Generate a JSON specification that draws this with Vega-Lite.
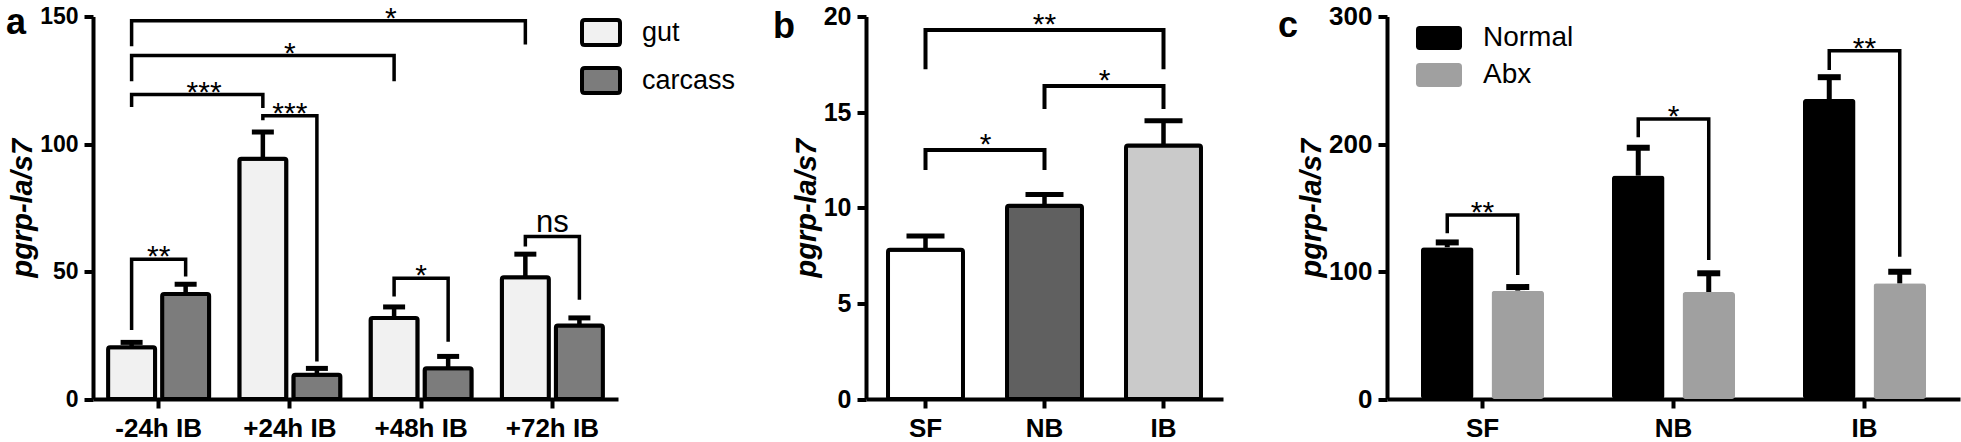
{
  "$schema": "https://vega.github.io/schema/vega-lite/v6.json",
  "autosize": {"type": "none"},
  "padding": {"left": 93, "top": 16.5, "right": 1868, "bottom": 425.5},
  "background": "white",
  "config": {
    "font": "Liberation Sans",
    "view": {"stroke": null},
    "axis": {
      "domainColor": "black", "domainWidth": 4, "tickColor": "black", "tickWidth": 4, "tickSize": 9,
      "labelColor": "black", "labelFont": "Liberation Sans", "labelFontWeight": "bold", "grid": false,
      "titleFont": "Liberation Sans", "titleFontWeight": "bold", "titleFontStyle": "italic", "titleColor": "black", "titleFontSize": 29
    },
    "axisX": {"labelAngle": 0, "labelFontSize": 26, "labelPadding": 7},
    "axisY": {"labelPadding": 6, "titlePadding": 2},
    "legend": {"labelFont": "Liberation Sans", "labelColor": "black", "padding": 0, "titlePadding": 0}
  },
  "datasets": {
    "aBars": [
      {"time": "-24h IB", "tissue": "gut", "mean": 20.3, "hi": 22.2},
      {"time": "-24h IB", "tissue": "carcass", "mean": 41.2, "hi": 45.0},
      {"time": "+24h IB", "tissue": "gut", "mean": 94.2, "hi": 104.7},
      {"time": "+24h IB", "tissue": "carcass", "mean": 9.5, "hi": 12.0},
      {"time": "+48h IB", "tissue": "gut", "mean": 31.8, "hi": 36.1},
      {"time": "+48h IB", "tissue": "carcass", "mean": 12.1, "hi": 16.7},
      {"time": "+72h IB", "tissue": "gut", "mean": 47.7, "hi": 56.8},
      {"time": "+72h IB", "tissue": "carcass", "mean": 28.8, "hi": 31.8}
    ],
    "aBrk": [
      {"id": 1, "pt": 1, "time": "-24h IB", "tissue": "gut", "v": 27.1},
      {"id": 1, "pt": 2, "time": "-24h IB", "tissue": "gut", "v": 54.8},
      {"id": 1, "pt": 3, "time": "-24h IB", "tissue": "carcass", "v": 54.8},
      {"id": 1, "pt": 4, "time": "-24h IB", "tissue": "carcass", "v": 48.0},
      {"id": 2, "pt": 1, "time": "+24h IB", "tissue": "gut", "v": 109.3},
      {"id": 2, "pt": 2, "time": "+24h IB", "tissue": "gut", "v": 111.1},
      {"id": 2, "pt": 3, "time": "+24h IB", "tissue": "carcass", "v": 111.1},
      {"id": 2, "pt": 4, "time": "+24h IB", "tissue": "carcass", "v": 14.7},
      {"id": 3, "pt": 1, "time": "-24h IB", "tissue": "gut", "v": 114.5},
      {"id": 3, "pt": 2, "time": "-24h IB", "tissue": "gut", "v": 119.4},
      {"id": 3, "pt": 3, "time": "+24h IB", "tissue": "gut", "v": 119.4},
      {"id": 3, "pt": 4, "time": "+24h IB", "tissue": "gut", "v": 114.1},
      {"id": 4, "pt": 1, "time": "-24h IB", "tissue": "gut", "v": 124.6},
      {"id": 4, "pt": 2, "time": "-24h IB", "tissue": "gut", "v": 134.7},
      {"id": 4, "pt": 3, "time": "+48h IB", "tissue": "gut", "v": 134.7},
      {"id": 4, "pt": 4, "time": "+48h IB", "tissue": "gut", "v": 124.6},
      {"id": 5, "pt": 1, "time": "-24h IB", "tissue": "gut", "v": 138.3},
      {"id": 5, "pt": 2, "time": "-24h IB", "tissue": "gut", "v": 148.3},
      {"id": 5, "pt": 3, "time": "+72h IB", "tissue": "gut", "v": 148.3},
      {"id": 5, "pt": 4, "time": "+72h IB", "tissue": "gut", "v": 139.0},
      {"id": 6, "pt": 1, "time": "+48h IB", "tissue": "gut", "v": 40.2},
      {"id": 6, "pt": 2, "time": "+48h IB", "tissue": "gut", "v": 47.4},
      {"id": 6, "pt": 3, "time": "+48h IB", "tissue": "carcass", "v": 47.4},
      {"id": 6, "pt": 4, "time": "+48h IB", "tissue": "carcass", "v": 22.5},
      {"id": 7, "pt": 1, "time": "+72h IB", "tissue": "gut", "v": 59.8},
      {"id": 7, "pt": 2, "time": "+72h IB", "tissue": "gut", "v": 63.7},
      {"id": 7, "pt": 3, "time": "+72h IB", "tissue": "carcass", "v": 63.7},
      {"id": 7, "pt": 4, "time": "+72h IB", "tissue": "carcass", "v": 38.9}
    ],
    "aLabC": [
      {"time": "-24h IB", "v": 54.8, "sig": "**"},
      {"time": "+24h IB", "v": 111.1, "sig": "***"},
      {"time": "+24h IB", "v": 134.7, "sig": "*"},
      {"time": "+48h IB", "v": 47.4, "sig": "*"}
    ],
    "aLabR": [{"time": "-24h IB", "v": 119.4, "sig": "***"}],
    "aLabL": [{"time": "+48h IB", "v": 148.3, "sig": "*"}],
    "aNs": [{"time": "+72h IB", "v": 63.7, "sig": "ns"}],
    "bBars": [
      {"grp": "SF", "mean": 7.8, "hi": 8.52},
      {"grp": "NB", "mean": 10.1, "hi": 10.69},
      {"grp": "IB", "mean": 13.25, "hi": 14.55}
    ],
    "bBrk": [
      {"id": 1, "pt": 1, "grp": "SF", "v": 11.97},
      {"id": 1, "pt": 2, "grp": "SF", "v": 13.02},
      {"id": 1, "pt": 3, "grp": "NB", "v": 13.02},
      {"id": 1, "pt": 4, "grp": "NB", "v": 11.97},
      {"id": 2, "pt": 1, "grp": "NB", "v": 15.16},
      {"id": 2, "pt": 2, "grp": "NB", "v": 16.37},
      {"id": 2, "pt": 3, "grp": "IB", "v": 16.37},
      {"id": 2, "pt": 4, "grp": "IB", "v": 15.16},
      {"id": 3, "pt": 1, "grp": "SF", "v": 17.24},
      {"id": 3, "pt": 2, "grp": "SF", "v": 19.29},
      {"id": 3, "pt": 3, "grp": "IB", "v": 19.29},
      {"id": 3, "pt": 4, "grp": "IB", "v": 17.24}
    ],
    "bLabMid": [
      {"grp": "SF", "v": 13.02, "sig": "*"},
      {"grp": "NB", "v": 16.37, "sig": "*"}
    ],
    "bLabC": [{"grp": "NB", "v": 19.29, "sig": "**"}],
    "cBars": [
      {"diet": "SF", "treatment": "Normal", "mean": 119.0, "hi": 122.8},
      {"diet": "SF", "treatment": "Abx", "mean": 85.0, "hi": 87.8},
      {"diet": "NB", "treatment": "Normal", "mean": 175.2, "hi": 197.0},
      {"diet": "NB", "treatment": "Abx", "mean": 83.9, "hi": 98.6},
      {"diet": "IB", "treatment": "Normal", "mean": 235.3, "hi": 252.4},
      {"diet": "IB", "treatment": "Abx", "mean": 90.7, "hi": 99.9}
    ],
    "cBrk": [
      {"id": 1, "pt": 1, "diet": "SF", "treatment": "Normal", "v": 130.0},
      {"id": 1, "pt": 2, "diet": "SF", "treatment": "Normal", "v": 144.3},
      {"id": 1, "pt": 3, "diet": "SF", "treatment": "Abx", "v": 144.3},
      {"id": 1, "pt": 4, "diet": "SF", "treatment": "Abx", "v": 97.3},
      {"id": 2, "pt": 1, "diet": "NB", "treatment": "Normal", "v": 205.2},
      {"id": 2, "pt": 2, "diet": "NB", "treatment": "Normal", "v": 219.6},
      {"id": 2, "pt": 3, "diet": "NB", "treatment": "Abx", "v": 219.6},
      {"id": 2, "pt": 4, "diet": "NB", "treatment": "Abx", "v": 109.0},
      {"id": 3, "pt": 1, "diet": "IB", "treatment": "Normal", "v": 258.0},
      {"id": 3, "pt": 2, "diet": "IB", "treatment": "Normal", "v": 273.2},
      {"id": 3, "pt": 3, "diet": "IB", "treatment": "Abx", "v": 273.2},
      {"id": 3, "pt": 4, "diet": "IB", "treatment": "Abx", "v": 111.6}
    ],
    "cLab": [
      {"diet": "SF", "v": 144.3, "sig": "**"},
      {"diet": "NB", "v": 219.6, "sig": "*"},
      {"diet": "IB", "v": 273.2, "sig": "**"}
    ]
  },
  "bounds": "flush",
  "spacing": 248,
  "resolve": {"scale": {"fill": "independent", "x": "independent", "y": "independent", "xOffset": "independent"}, "legend": {"fill": "independent"}},
  "hconcat": [
    {
      "width": 525,
      "height": 382.5,
      "title": {"text": "a", "anchor": "start", "frame": "group", "orient": "top", "fontSize": 36, "fontWeight": "bold", "font": "Liberation Sans", "color": "black", "baseline": "alphabetic", "offset": 0, "dx": -87, "dy": 66},
      "layer": [
        {
          "data": {"name": "aBars"},
          "mark": {"type": "bar", "stroke": "black", "strokeWidth": 4, "cornerRadius": 2},
          "encoding": {
            "x": {"field": "time", "type": "nominal", "title": null, "scale": {"type": "band", "domain": ["-24h IB", "+24h IB", "+48h IB", "+72h IB"], "paddingInner": 0.23, "paddingOuter": 0.115}},
            "xOffset": {"field": "tissue", "type": "nominal", "scale": {"type": "band", "domain": ["gut", "carcass"], "range": [0, 101.06], "paddingInner": 0.13, "paddingOuter": 0}},
            "y": {"field": "mean", "type": "quantitative", "title": "pgrp-la/s7", "scale": {"domain": [0, 150], "nice": false}, "axis": {"values": [0, 50, 100, 150], "labelFontSize": 23}},
            "fill": {"field": "tissue", "type": "nominal", "scale": {"domain": ["gut", "carcass"], "range": ["#f1f1f1", "#7c7c7c"]},
              "legend": {"orient": "none", "legendX": 487, "legendY": -5, "title": null, "symbolType": "M-0.85,-0.66H0.85Q1,-0.66 1,-0.51V0.51Q1,0.66 0.85,0.66H-0.85Q-1,0.66 -1,0.51V-0.51Q-1,-0.66 -0.85,-0.66Z", "symbolSize": 1444, "symbolStrokeColor": "black", "symbolStrokeWidth": 4, "labelFontSize": 27, "labelOffset": 20, "rowPadding": 6}}
          }
        },
        {
          "data": {"name": "aBars"},
          "mark": {"type": "rule", "stroke": "black", "strokeWidth": 4.5},
          "encoding": {
            "x": {"field": "time", "type": "nominal", "title": null, "scale": {"type": "band", "domain": ["-24h IB", "+24h IB", "+48h IB", "+72h IB"], "paddingInner": 0.23, "paddingOuter": 0.115}},
            "xOffset": {"field": "tissue", "type": "nominal", "scale": {"type": "band", "domain": ["gut", "carcass"], "range": [0, 101.06], "paddingInner": 0.13, "paddingOuter": 0}},
            "y": {"field": "mean", "type": "quantitative", "title": "pgrp-la/s7"},
            "y2": {"field": "hi"}
          }
        },
        {
          "data": {"name": "aBars"},
          "mark": {"type": "tick", "color": "black", "size": 22, "thickness": 5, "opacity": 1},
          "encoding": {
            "x": {"field": "time", "type": "nominal", "title": null, "scale": {"type": "band", "domain": ["-24h IB", "+24h IB", "+48h IB", "+72h IB"], "paddingInner": 0.23, "paddingOuter": 0.115}},
            "xOffset": {"field": "tissue", "type": "nominal", "scale": {"type": "band", "domain": ["gut", "carcass"], "range": [0, 101.06], "paddingInner": 0.13, "paddingOuter": 0}},
            "y": {"field": "hi", "type": "quantitative", "title": "pgrp-la/s7"}
          }
        },
        {
          "data": {"name": "aBrk"},
          "mark": {"type": "line", "stroke": "black", "strokeWidth": 3.5, "strokeJoin": "miter", "strokeCap": "butt"},
          "encoding": {
            "x": {"field": "time", "type": "nominal", "title": null, "scale": {"type": "band", "domain": ["-24h IB", "+24h IB", "+48h IB", "+72h IB"], "paddingInner": 0.23, "paddingOuter": 0.115}},
            "xOffset": {"field": "tissue", "type": "nominal", "scale": {"type": "band", "domain": ["gut", "carcass"], "range": [0, 101.06], "paddingInner": 0.13, "paddingOuter": 0}},
            "y": {"field": "v", "type": "quantitative", "title": "pgrp-la/s7"},
            "detail": {"field": "id", "type": "nominal"},
            "order": {"field": "pt", "type": "quantitative"}
          }
        },
        {
          "data": {"name": "aLabC"},
          "mark": {"type": "text", "fontSize": 30, "font": "Liberation Sans", "color": "black", "align": "center", "baseline": "alphabetic", "dy": 7},
          "encoding": {
            "x": {"field": "time", "type": "nominal", "title": null, "scale": {"type": "band", "domain": ["-24h IB", "+24h IB", "+48h IB", "+72h IB"], "paddingInner": 0.23, "paddingOuter": 0.115}},
            "y": {"field": "v", "type": "quantitative", "title": "pgrp-la/s7"},
            "text": {"field": "sig"}
          }
        },
        {
          "data": {"name": "aLabR"},
          "mark": {"type": "text", "fontSize": 30, "font": "Liberation Sans", "color": "black", "align": "center", "baseline": "alphabetic", "dy": 7},
          "encoding": {
            "x": {"field": "time", "type": "nominal", "title": null, "bandPosition": 0.95, "scale": {"type": "band", "domain": ["-24h IB", "+24h IB", "+48h IB", "+72h IB"], "paddingInner": 0.23, "paddingOuter": 0.115}},
            "y": {"field": "v", "type": "quantitative", "title": "pgrp-la/s7"},
            "text": {"field": "sig"}
          }
        },
        {
          "data": {"name": "aLabL"},
          "mark": {"type": "text", "fontSize": 30, "font": "Liberation Sans", "color": "black", "align": "center", "baseline": "alphabetic", "dy": 7},
          "encoding": {
            "x": {"field": "time", "type": "nominal", "title": null, "bandPosition": 0.2, "scale": {"type": "band", "domain": ["-24h IB", "+24h IB", "+48h IB", "+72h IB"], "paddingInner": 0.23, "paddingOuter": 0.115}},
            "y": {"field": "v", "type": "quantitative", "title": "pgrp-la/s7"},
            "text": {"field": "sig"}
          }
        },
        {
          "data": {"name": "aNs"},
          "mark": {"type": "text", "fontSize": 31, "font": "Liberation Sans", "color": "black", "align": "center", "baseline": "alphabetic", "dy": -5},
          "encoding": {
            "x": {"field": "time", "type": "nominal", "title": null, "scale": {"type": "band", "domain": ["-24h IB", "+24h IB", "+48h IB", "+72h IB"], "paddingInner": 0.23, "paddingOuter": 0.115}},
            "y": {"field": "v", "type": "quantitative", "title": "pgrp-la/s7"},
            "text": {"field": "sig"}
          }
        }
      ]
    },
    {
      "bounds": "flush",
      "spacing": 164,
      "resolve": {"scale": {"fill": "independent", "x": "independent", "y": "independent", "xOffset": "independent"}, "legend": {"fill": "independent"}},
      "hconcat": [
        {
          "width": 357,
          "height": 382.5,
          "title": {"text": "b", "anchor": "start", "frame": "group", "orient": "top", "fontSize": 36, "fontWeight": "bold", "font": "Liberation Sans", "color": "black", "baseline": "alphabetic", "offset": 0, "dx": -93, "dy": 69},
          "layer": [
            {
              "data": {"name": "bBars"},
              "mark": {"type": "bar", "stroke": "black", "strokeWidth": 4, "cornerRadius": 2},
              "encoding": {
                "x": {"field": "grp", "type": "nominal", "title": null, "scale": {"type": "band", "domain": ["SF", "NB", "IB"], "paddingInner": 0.37, "paddingOuter": 0.185}},
                "y": {"field": "mean", "type": "quantitative", "title": "pgrp-la/s7", "scale": {"domain": [0, 20], "nice": false}, "axis": {"values": [0, 5, 10, 15, 20], "labelFontSize": 25}},
                "fill": {"field": "grp", "type": "nominal", "scale": {"domain": ["SF", "NB", "IB"], "range": ["#ffffff", "#606060", "#cacaca"]}, "legend": null}
              }
            },
            {
              "data": {"name": "bBars"},
              "mark": {"type": "rule", "stroke": "black", "strokeWidth": 4.5},
              "encoding": {
                "x": {"field": "grp", "type": "nominal", "title": null, "scale": {"type": "band", "domain": ["SF", "NB", "IB"], "paddingInner": 0.37, "paddingOuter": 0.185}},
                "y": {"field": "mean", "type": "quantitative", "title": "pgrp-la/s7"},
                "y2": {"field": "hi"}
              }
            },
            {
              "data": {"name": "bBars"},
              "mark": {"type": "tick", "color": "black", "size": 38, "thickness": 5, "opacity": 1},
              "encoding": {
                "x": {"field": "grp", "type": "nominal", "title": null, "scale": {"type": "band", "domain": ["SF", "NB", "IB"], "paddingInner": 0.37, "paddingOuter": 0.185}},
                "y": {"field": "hi", "type": "quantitative", "title": "pgrp-la/s7"}
              }
            },
            {
              "data": {"name": "bBrk"},
              "mark": {"type": "line", "stroke": "black", "strokeWidth": 4, "strokeJoin": "miter", "strokeCap": "butt"},
              "encoding": {
                "x": {"field": "grp", "type": "nominal", "title": null, "scale": {"type": "band", "domain": ["SF", "NB", "IB"], "paddingInner": 0.37, "paddingOuter": 0.185}},
                "y": {"field": "v", "type": "quantitative", "title": "pgrp-la/s7"},
                "detail": {"field": "id", "type": "nominal"},
                "order": {"field": "pt", "type": "quantitative"}
              }
            },
            {
              "data": {"name": "bLabMid"},
              "mark": {"type": "text", "fontSize": 30, "font": "Liberation Sans", "color": "black", "align": "center", "baseline": "alphabetic", "dy": 4},
              "encoding": {
                "x": {"field": "grp", "type": "nominal", "title": null, "bandPosition": 1.3, "scale": {"type": "band", "domain": ["SF", "NB", "IB"], "paddingInner": 0.37, "paddingOuter": 0.185}},
                "y": {"field": "v", "type": "quantitative", "title": "pgrp-la/s7"},
                "text": {"field": "sig"}
              }
            },
            {
              "data": {"name": "bLabC"},
              "mark": {"type": "text", "fontSize": 30, "font": "Liberation Sans", "color": "black", "align": "center", "baseline": "alphabetic", "dy": 4},
              "encoding": {
                "x": {"field": "grp", "type": "nominal", "title": null, "scale": {"type": "band", "domain": ["SF", "NB", "IB"], "paddingInner": 0.37, "paddingOuter": 0.185}},
                "y": {"field": "v", "type": "quantitative", "title": "pgrp-la/s7"},
                "text": {"field": "sig"}
              }
            }
          ]
        },
        {
          "width": 573,
          "height": 382.5,
          "title": {"text": "c", "anchor": "start", "frame": "group", "orient": "top", "fontSize": 36, "fontWeight": "bold", "font": "Liberation Sans", "color": "black", "baseline": "alphabetic", "offset": 0, "dx": -109, "dy": 69},
          "layer": [
            {
              "data": {"name": "cBars"},
              "mark": {"type": "bar", "cornerRadius": 3},
              "encoding": {
                "x": {"field": "diet", "type": "nominal", "title": null, "scale": {"type": "band", "domain": ["SF", "NB", "IB"], "paddingInner": 0.356, "paddingOuter": 0.178}},
                "xOffset": {"field": "treatment", "type": "nominal", "scale": {"type": "band", "domain": ["Normal", "Abx"], "range": [0, 123], "paddingInner": 0.255, "paddingOuter": 0}},
                "y": {"field": "mean", "type": "quantitative", "title": "pgrp-la/s7", "scale": {"domain": [0, 300], "nice": false}, "axis": {"values": [0, 100, 200, 300], "labelFontSize": 26}},
                "fill": {"field": "treatment", "type": "nominal", "scale": {"domain": ["Normal", "Abx"], "range": ["#000000", "#a0a0a0"]},
                  "legend": {"orient": "none", "legendX": 29, "legendY": -1.5, "title": null, "symbolType": "M-0.84,-0.52H0.84Q1,-0.52 1,-0.36V0.36Q1,0.52 0.84,0.52H-0.84Q-1,0.52 -1,0.36V-0.36Q-1,-0.52 -0.84,-0.52Z", "symbolSize": 2116, "symbolStrokeWidth": 0, "labelFontSize": 28, "labelOffset": 21, "rowPadding": -3}}
              }
            },
            {
              "data": {"name": "cBars"},
              "mark": {"type": "rule", "stroke": "black", "strokeWidth": 5},
              "encoding": {
                "x": {"field": "diet", "type": "nominal", "title": null, "scale": {"type": "band", "domain": ["SF", "NB", "IB"], "paddingInner": 0.356, "paddingOuter": 0.178}},
                "xOffset": {"field": "treatment", "type": "nominal", "scale": {"type": "band", "domain": ["Normal", "Abx"], "range": [0, 123], "paddingInner": 0.255, "paddingOuter": 0}},
                "y": {"field": "mean", "type": "quantitative", "title": "pgrp-la/s7"},
                "y2": {"field": "hi"}
              }
            },
            {
              "data": {"name": "cBars"},
              "mark": {"type": "tick", "color": "black", "size": 23, "thickness": 6, "opacity": 1},
              "encoding": {
                "x": {"field": "diet", "type": "nominal", "title": null, "scale": {"type": "band", "domain": ["SF", "NB", "IB"], "paddingInner": 0.356, "paddingOuter": 0.178}},
                "xOffset": {"field": "treatment", "type": "nominal", "scale": {"type": "band", "domain": ["Normal", "Abx"], "range": [0, 123], "paddingInner": 0.255, "paddingOuter": 0}},
                "y": {"field": "hi", "type": "quantitative", "title": "pgrp-la/s7"}
              }
            },
            {
              "data": {"name": "cBrk"},
              "mark": {"type": "line", "stroke": "black", "strokeWidth": 3.5, "strokeJoin": "miter", "strokeCap": "butt"},
              "encoding": {
                "x": {"field": "diet", "type": "nominal", "title": null, "scale": {"type": "band", "domain": ["SF", "NB", "IB"], "paddingInner": 0.356, "paddingOuter": 0.178}},
                "xOffset": {"field": "treatment", "type": "nominal", "scale": {"type": "band", "domain": ["Normal", "Abx"], "range": [0, 123], "paddingInner": 0.255, "paddingOuter": 0}},
                "y": {"field": "v", "type": "quantitative", "title": "pgrp-la/s7"},
                "detail": {"field": "id", "type": "nominal"},
                "order": {"field": "pt", "type": "quantitative"}
              }
            },
            {
              "data": {"name": "cLab"},
              "mark": {"type": "text", "fontSize": 30, "font": "Liberation Sans", "color": "black", "align": "center", "baseline": "alphabetic", "dy": 7},
              "encoding": {
                "x": {"field": "diet", "type": "nominal", "title": null, "scale": {"type": "band", "domain": ["SF", "NB", "IB"], "paddingInner": 0.356, "paddingOuter": 0.178}},
                "y": {"field": "v", "type": "quantitative", "title": "pgrp-la/s7"},
                "text": {"field": "sig"}
              }
            }
          ]
        }
      ]
    }
  ]
}
